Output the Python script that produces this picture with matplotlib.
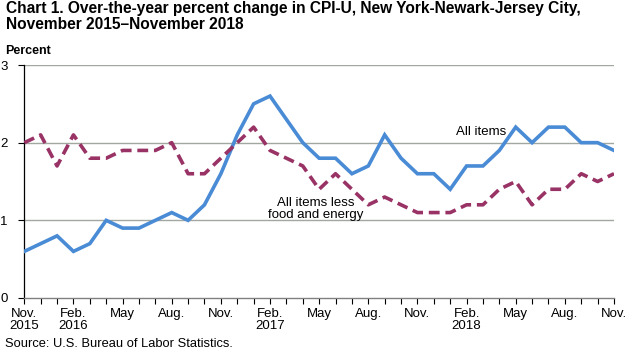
import matplotlib
matplotlib.use("Agg")
import matplotlib.pyplot as plt
import numpy as np

plt.rcParams['font.family'] = ['Liberation Sans', 'DejaVu Sans']

months = ["Nov. 2015", "Dec. 2015", "Jan. 2016", "Feb. 2016", "Mar. 2016", "Apr. 2016",
          "May 2016", "Jun. 2016", "Jul. 2016", "Aug. 2016", "Sep. 2016", "Oct. 2016",
          "Nov. 2016", "Dec. 2016", "Jan. 2017", "Feb. 2017", "Mar. 2017", "Apr. 2017",
          "May 2017", "Jun. 2017", "Jul. 2017", "Aug. 2017", "Sep. 2017", "Oct. 2017",
          "Nov. 2017", "Dec. 2017", "Jan. 2018", "Feb. 2018", "Mar. 2018", "Apr. 2018",
          "May 2018", "Jun. 2018", "Jul. 2018", "Aug. 2018", "Sep. 2018", "Oct. 2018",
          "Nov. 2018"]
all_items = [0.6, 0.7, 0.8, 0.6, 0.7, 1.0, 0.9, 0.9, 1.0, 1.1, 1.0, 1.2,
             1.6, 2.1, 2.5, 2.6, 2.3, 2.0, 1.8, 1.8, 1.6, 1.7, 2.1, 1.8,
             1.6, 1.6, 1.4, 1.7, 1.7, 1.9, 2.2, 2.0, 2.2, 2.2, 2.0, 2.0, 1.9]
core = [2.0, 2.1, 1.7, 2.1, 1.8, 1.8, 1.9, 1.9, 1.9, 2.0, 1.6, 1.6,
        1.8, 2.0, 2.2, 1.9, 1.8, 1.7, 1.4, 1.6, 1.4, 1.2, 1.3, 1.2,
        1.1, 1.1, 1.1, 1.2, 1.2, 1.4, 1.5, 1.2, 1.4, 1.4, 1.6, 1.5, 1.6]
tick_labels = ["Nov.\n2015", "Feb.\n2016", "May", "Aug.", "Nov.", "Feb.\n2017", "May",
               "Aug.", "Nov.", "Feb.\n2018", "May", "Aug.", "Nov."]
y_ticks = [0, 1, 2, 3]

W, H = 632, 353
fig = plt.figure(figsize=(W / 100, H / 100), dpi=100)
ax = fig.add_axes([24.3 / W, 1 - 298 / H, (614 - 24.3) / W, (298 - 65) / H])

x = np.arange(len(months))
ax.plot(x, all_items, color='#4a8bd6', lw=2.6, solid_joinstyle='miter', zorder=3)
ax.plot(x, core, color='#993366', lw=2.6, dashes=(3.0, 1.6), zorder=3)

ax.set_xlim(0, len(months) - 1)
ax.set_ylim(0, 3)
for v in [1, 2, 3]:
    ax.axhline(v, color='#a0a8a0', lw=1.0, zorder=1)

ax.set_yticks(y_ticks)
ax.set_yticklabels([str(v) for v in y_ticks], fontsize=9.5)
ax.set_xticks(x, minor=True)
ax.set_xticks(x[::3])
ax.set_xticklabels(tick_labels, fontsize=9.5, linespacing=1.0)
ax.tick_params(axis='x', which='both', direction='out', length=4, width=0.8,
               colors='black', pad=3)
ax.tick_params(axis='y', direction='out', length=4, width=0.8, pad=8)

for s in ['top', 'right']:
    ax.spines[s].set_visible(False)
ax.spines['left'].set_linewidth(0.9)
ax.spines['bottom'].set_color('#808080')
ax.spines['bottom'].set_linewidth(1.0)

ax.text(27.9, 2.1, "All items", fontsize=9.5, ha='center', va='baseline')
ax.text(17.8, 1.03, "All items less\nfood and energy", fontsize=9.5, ha='center',
        va='baseline', linespacing=1.05)

fig.text(6 / W, 1 - 1 / H, "Chart 1. Over-the-year percent change in CPI-U, New York-Newark-Jersey City,\nNovember 2015\u2013November 2018",
         fontsize=11.2, fontweight='bold', ha='left', va='top', linespacing=1.1)
fig.text(5 / W, 1 - 45 / H, "Percent", fontsize=9, fontweight='bold', ha='left', va='top')
fig.text(5 / W, 1 - 350 / H, "Source: U.S. Bureau of Labor Statistics.", fontsize=9.3,
         ha='left', va='bottom')

fig.savefig("out.png", dpi=100)
